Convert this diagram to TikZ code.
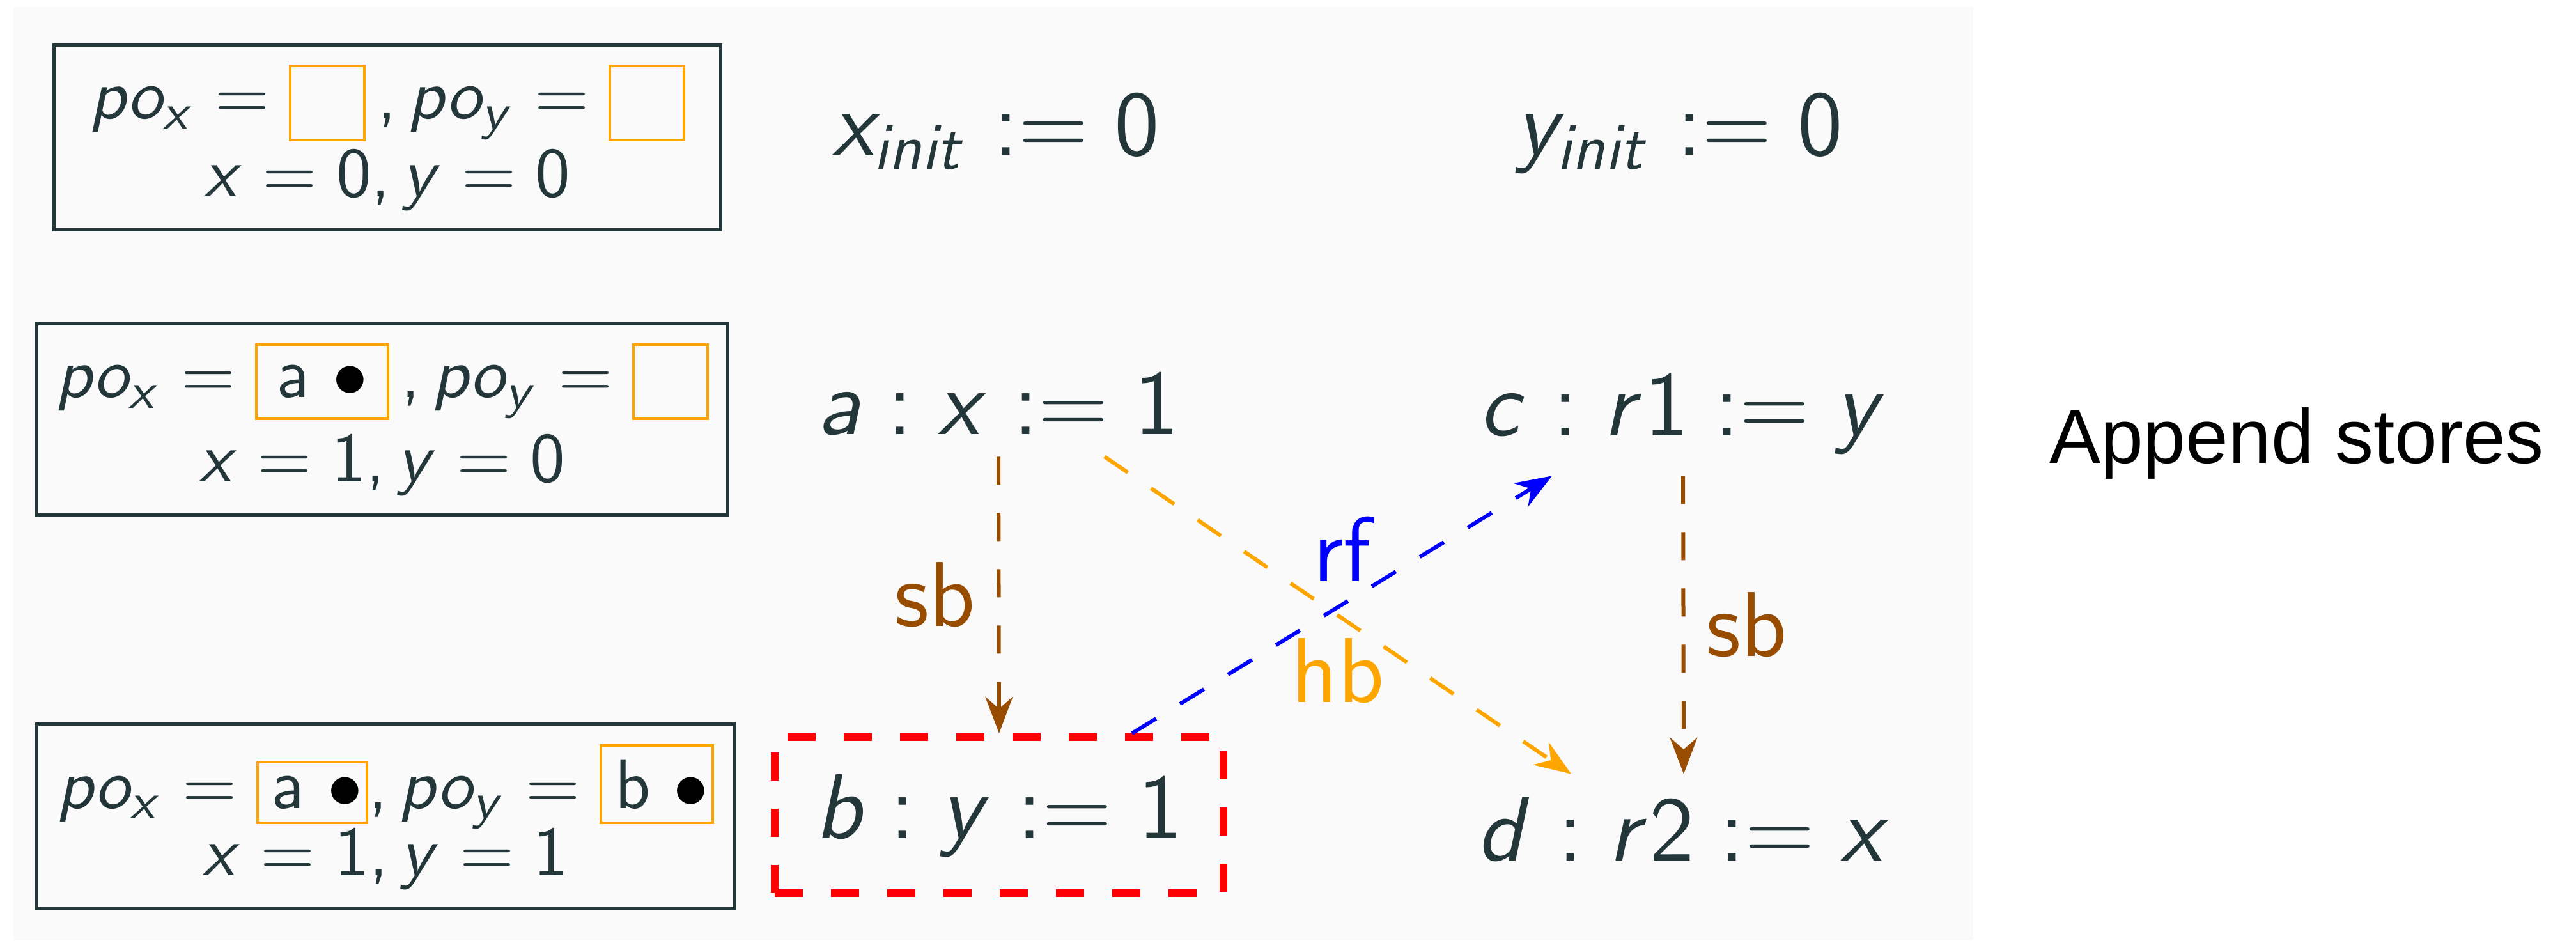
\documentclass[tikz,border=0pt]{standalone}
\usepackage[no-math]{fontspec}
\newfontfamily\appendfont{Liberation Sans}
\renewcommand{\familydefault}{\sfdefault}
\usetikzlibrary{arrows.meta}

% Cores do slide
\definecolor{mteal}{HTML}{23373B}
\definecolor{bggray}{HTML}{FAFAFA}
\definecolor{hborange}{HTML}{FFA500}
\definecolor{sbbrown}{HTML}{974C00}
\definecolor{rfblue}{HTML}{0000FF}

% Letras e algarismos da matemática em sem serifa
\DeclareSymbolFont{sfletters}{OT1}{cmss}{m}{sl}
\DeclareSymbolFont{sfupright}{OT1}{cmss}{m}{n}
\newcommand{\sfletter}[1]{\DeclareMathSymbol{#1}{\mathalpha}{sfletters}{`#1}}
\newcommand{\sfdigit}[1]{\DeclareMathSymbol{#1}{\mathalpha}{sfupright}{`#1}}
\sfletter{a}\sfletter{b}\sfletter{c}\sfletter{d}\sfletter{i}\sfletter{n}
\sfletter{o}\sfletter{p}\sfletter{r}\sfletter{t}\sfletter{x}\sfletter{y}
\sfdigit{0}\sfdigit{1}\sfdigit{2}
\DeclareMathSymbol{,}{\mathpunct}{sfupright}{`,}
\DeclareMathSymbol{:}{\mathrel}{sfupright}{`:}

% Caixinhas laranja do buffer e marcador
\newcommand{\poslot}[1]{\fcolorbox{hborange}{bggray}{#1}}
\newcommand{\poslotsm}[1]{{\setlength{\fboxsep}{2pt}\fcolorbox{hborange}{bggray}{#1\hspace{-1.5pt}}}}
\newcommand{\dotmark}{\textcolor{black}{$\bullet$}}

\begin{document}
\begin{tikzpicture}[x=1pt, y=1pt, >={Stealth},
    memstate/.style={draw=mteal, line width=0.5pt, text=mteal, align=center, font=\fontsize{11}{12.2}\selectfont, inner xsep=3pt, inner ysep=3.1pt},
    instr/.style={text=mteal, font=\fontsize{14.6}{17}\selectfont, anchor=base},
    lbl/.style={font=\Large},
    sbedge/.style={->, draw=sbbrown, semithick, dash pattern=on 4.4pt off 4.4pt},
    hbedge/.style={->, draw=hborange, semithick, dash pattern=on 4.4pt off 4.4pt},
    rfedge/.style={->, draw=rfblue, semithick, dash pattern=on 4.4pt off 4.4pt}]

    % Fundo cinza do slide
    \useasboundingbox (0,0) rectangle (403,147.4);
    \fill[bggray] (2.1,0.3) rectangle (308.7,146.3);

    % Estados da memória à esquerda
    \node[memstate, minimum width=104.3pt] (st0) at (60.6,125.9) {$po_x = \poslot{\phantom{a}}\,, po_y = \poslot{\phantom{a}}$\\$x = 0, y = 0$};
    \node[memstate, minimum width=107.1pt] (st1) at (59.8,81.8) {$po_x = \poslot{a \dotmark}\,, po_y = \poslot{\phantom{a}}$\\[1pt]$x = 1, y = 0$};
    \node[memstate, minimum width=109.2pt] (st2) at (60.3,19.7) {$po_x = \poslotsm{a \dotmark}, po_y = \poslotsm{b \dotmark}$\\[-1.7pt]$x = 1, y = 1$};

    % Inicializações
    \node[instr] (xinit) at (155.8,123.1) {$x_{init} := 0$};
    \node[instr] (yinit) at (262.7,123.1) {$y_{init} := 0$};

    % Instruções das duas threads (b em destaque)
    \node[instr] (a) at (156.2,79.5) {$a : x := 1$};
    \node[instr] (c) at (263.3,79.3) {$c : r1 := y$};
    \node[instr, draw=red, very thick, dash pattern=on 4.4pt off 4.4pt,
          minimum width=70.2pt, minimum height=24.4pt] (b) at (156.3,16.3) {$b : y := 1$};
    \node[instr] (d) at (263.4,12.8) {$d : r2 := x$};

    % Arestas sb, hb e rf
    \draw[sbedge] (a.south) -- node[lbl, left, text=sbbrown] (sbl) {sb} (b.north);
    \draw[sbedge] (c.south) -- node[lbl, right, text=sbbrown] (sbr) {sb} (d.north);
    \draw[hbedge] ([xshift=16.6pt]a.south) -- node[lbl, below, text=hborange] (hbl) {hb} ([xshift=-17.6pt]d.north);
    \draw[rfedge] ([xshift=20.8pt]b.north) -- node[lbl, above, text=rfblue] (rfl) {rf} ([xshift=-20.5pt]c.south);

    % Título à direita
    \node[font=\appendfont\fontsize{12}{14}\selectfont, anchor=base] (title) at (359.3,75.0) {Append stores};
\end{tikzpicture}
\end{document}
